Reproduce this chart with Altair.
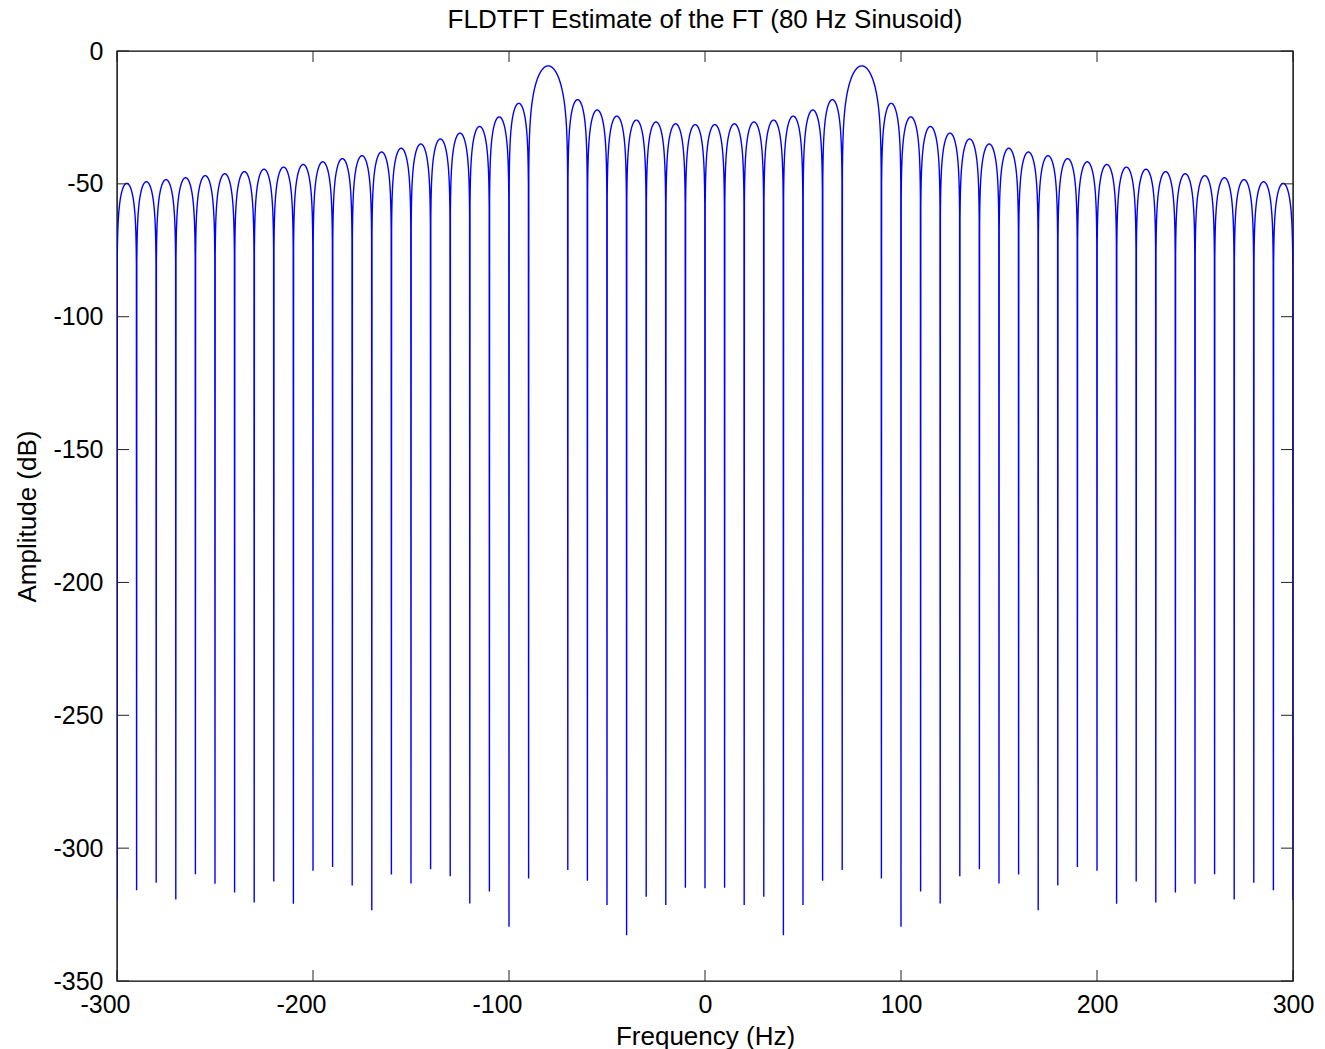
import math
import altair as alt
import pandas as pd

# Null frequencies (Hz) of the spectrum: every 10 Hz except at the two tones
null_freqs = [f for f in range(-300, 301, 10) if f not in (-80, 80)]

# Depth (dB) of the curve at each null, left to right
null_depths = [
    -319.5, -315.8, -313.0, -319.3, -309.8, -313.4, -316.7, -320.5, -312.6, -320.9,
    -308.5, -307.1, -314.1, -323.4, -309.9, -313.3, -307.9, -310.6, -320.8, -316.3,
    -329.6, -311.4, -308.2, -312.3, -321.4, -332.8, -318.3, -321.4, -314.9,
    -315.1,
    -314.9, -321.4, -318.3, -332.8, -321.4, -312.3, -308.2, -311.4,
    -329.6, -316.3, -320.8, -310.6, -307.9, -313.3, -309.9, -323.4, -314.1, -307.1,
    -308.5, -320.9, -312.6, -320.5, -316.7, -313.4, -309.8, -319.3, -313.0, -315.8,
    -319.5,
]

# Peak level (dB) of each lobe between consecutive nulls, left to right
lobe_peaks = [
    -49.8, -49.2, -48.4, -47.7, -46.9, -46.2, -45.4, -44.5, -43.7, -42.7,
    -41.7, -40.5, -39.4, -38.0, -36.6, -35.0, -33.1, -30.9, -28.4, -24.8,
    -19.7, -5.6,
    -18.3, -22.2, -24.5, -26.0, -26.7, -27.4, -27.7,
    -27.7, -27.4, -26.7, -26.0, -24.5, -22.2, -18.3,
    -5.6, -19.7,
    -24.8, -28.4, -30.9, -33.1, -35.0, -36.6, -38.0, -39.4, -40.5, -41.7,
    -42.7, -43.7, -44.5, -45.4, -46.2, -46.9, -47.7, -48.4, -49.2, -49.8,
]

x_ticks = [-300, -200, -100, 0, 100, 200, 300]
y_ticks = [0, -50, -100, -150, -200, -250, -300, -350]

# Trace each lobe from its peak level; the two wide lobes are main lobes
step = 0.1
freq, amp = [], []
for i in range(len(lobe_peaks)):
    f0, f1 = null_freqs[i], null_freqs[i + 1]
    freq.append(f0)
    amp.append(null_depths[i])
    n = int(round((f1 - f0) / step))
    for k in range(1, n):
        u = k / n
        if f1 - f0 > 10:
            x = 2 * u - 1
            shape = 1.0 if abs(x) < 1e-12 else math.sin(math.pi * x) / (math.pi * x)
        else:
            shape = math.sin(math.pi * u)
        freq.append(round(f0 + k * step, 3))
        amp.append(round(lobe_peaks[i] + 20 * math.log10(abs(shape)), 3))
freq.append(null_freqs[-1])
amp.append(null_depths[-1])

spec = pd.DataFrame({"f": freq, "db": amp})
xt = pd.DataFrame({"f": x_ticks})
yt = pd.DataFrame({"db": y_ticks})

W, H = 1176, 930
FONT = "Liberation Sans"

x_scale = alt.Scale(domain=[-300, 300], nice=False, zero=False)
y_scale = alt.Scale(domain=[-350, 0], nice=False, zero=False)
x_axis = alt.Axis(values=x_ticks, title="Frequency (Hz)", domain=False, ticks=False,
                  grid=False, labelPadding=11, titlePadding=6, labelFlush=False,
                  labelOverlap=False, labelExpr="toString(datum.value)",
                  labelOffset=alt.condition("datum.value < 0", alt.value(-12), alt.value(0)))
y_axis = alt.Axis(values=y_ticks, title="Amplitude (dB)", domain=False, ticks=False,
                  grid=False, labelPadding=14, titlePadding=12, labelFlush=False,
                  labelOverlap=False, labelExpr="toString(datum.value)")

line = alt.Chart(spec).mark_line(color="#0000ff", strokeWidth=1.4, clip=True).encode(
    x=alt.X("f:Q", scale=x_scale, axis=x_axis),
    y=alt.Y("db:Q", scale=y_scale, axis=y_axis),
)

# Inward tick marks on all four sides of the box
tick_color = "#222222"
x_top = alt.Chart(xt).mark_rule(color=tick_color, strokeWidth=1).encode(
    x=alt.X("f:Q", scale=x_scale, axis=x_axis), y=alt.value(0), y2=alt.value(11))
x_bot = alt.Chart(xt).mark_rule(color=tick_color, strokeWidth=1).encode(
    x=alt.X("f:Q", scale=x_scale, axis=x_axis), y=alt.value(H - 11), y2=alt.value(H))
y_left = alt.Chart(yt).mark_rule(color=tick_color, strokeWidth=1).encode(
    y=alt.Y("db:Q", scale=y_scale, axis=y_axis), x=alt.value(0), x2=alt.value(12))
y_right = alt.Chart(yt).mark_rule(color=tick_color, strokeWidth=1).encode(
    y=alt.Y("db:Q", scale=y_scale, axis=y_axis), x=alt.value(W - 12), x2=alt.value(W))

chart = alt.layer(line, x_top, x_bot, y_left, y_right).properties(
    width=W,
    height=H,
    background="#ffffff",
    title=alt.TitleParams("FLDTFT Estimate of the FT (80 Hz Sinusoid)", anchor="middle",
                          font=FONT, fontSize=26, fontWeight="normal", color="#000000",
                          baseline="alphabetic", offset=-15),
    autosize=alt.AutoSizeParams(type="none"),
    padding={"left": 117, "top": 51, "right": 32, "bottom": 68},
).configure_view(
    stroke="#000000", strokeWidth=1.4
).configure_axis(
    labelFont=FONT, labelFontSize=25, labelColor="#000000",
    titleFont=FONT, titleFontSize=26, titleFontWeight="normal", titleColor="#000000",
)

chart.save("out.html", embed_options={"renderer": "svg", "actions": False})
